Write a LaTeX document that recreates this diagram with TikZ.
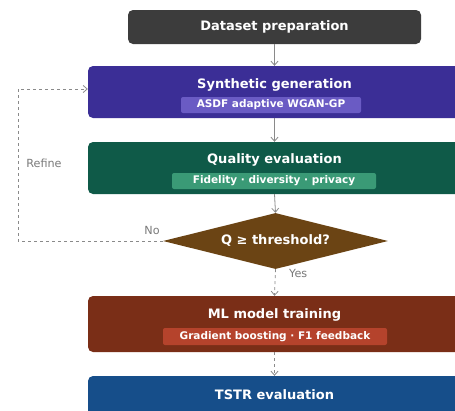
\documentclass[tikz,border=0pt]{standalone}
\usepackage{fontspec}
\setmainfont{DejaVu Sans}
\usetikzlibrary{shapes.geometric,arrows.meta}

\definecolor{cPrep}{HTML}{3C3C3C}
\definecolor{cSyn}{HTML}{3B2E96}
\definecolor{cSynSub}{HTML}{6A5BC4}
\definecolor{cQual}{HTML}{0F5A48}
\definecolor{cQualSub}{HTML}{3A9A76}
\definecolor{cDec}{HTML}{6B4414}
\definecolor{cML}{HTML}{7A2E17}
\definecolor{cMLSub}{HTML}{B5432C}
\definecolor{cTSTR}{HTML}{164E8A}
\definecolor{cLine}{HTML}{8A8A8A}
\definecolor{cNote}{HTML}{7A7A7A}

\tikzset{
  stage/.style={rectangle, rounded corners=5pt, inner sep=0pt, text=white,
    font=\bfseries\fontsize{13}{15}\selectfont},
  tag/.style={rectangle, rounded corners=2pt, inner sep=0pt, text=white,
    minimum height=16pt, font=\bfseries\fontsize{10.5}{12}\selectfont},
  title/.style={text=white, inner sep=0pt, font=\bfseries\fontsize{13}{15}\selectfont},
  flow/.style={draw=cLine, line width=0.8pt, -{Straight Barb[length=4pt,width=7pt]}},
  dflow/.style={flow, dash pattern=on 3pt off 3pt},
  note/.style={text=cNote, inner sep=0pt, font=\fontsize{11.2}{13}\selectfont},
}

\begin{document}
\begin{tikzpicture}[x=1pt,y=-1pt]
  \useasboundingbox (0,0) rectangle (455,410);
  \clip (0,0) rectangle (455,410);
  \fill[white] (0,0) rectangle (455,410);

  % stages
  \node[stage, fill=cPrep, minimum width=293pt, minimum height=34pt] (prep) at (274.5,27) {Dataset preparation};

  \node[stage, fill=cSyn, minimum width=373pt, minimum height=52pt] (syn) at (274.5,92) {};
  \node[title] (synT) at (274.5,85) {Synthetic generation};
  \node[tag, fill=cSynSub, minimum width=180pt] (synS) at (271,105) {ASDF adaptive WGAN-GP};

  \node[stage, fill=cQual, minimum width=373pt, minimum height=52pt] (qual) at (274.5,168) {};
  \node[title] (qualT) at (274.5,160) {Quality evaluation};
  \node[tag, fill=cQualSub, minimum width=204pt] (qualS) at (274,181) {Fidelity · diversity · privacy};

  \node[diamond, aspect=4, fill=cDec, inner sep=0pt, minimum width=225pt, minimum height=56pt,
        text=white, font=\bfseries\fontsize{13}{15}\selectfont] (dec) at (275.5,241) {Q ≥ threshold?};

  \node[stage, fill=cML, minimum width=373pt, minimum height=56pt] (ml) at (274.5,324) {};
  \node[title] (mlT) at (274.5,315) {ML model training};
  \node[tag, fill=cMLSub, minimum width=224pt, minimum height=17pt] (mlS) at (275,336.5) {Gradient boosting · F1 feedback};

  \node[stage, fill=cTSTR, minimum width=373pt, minimum height=40pt] (tstr) at (274.5,396) {};
  \node[title] (tstrT) at (274.5,395) {TSTR evaluation};

  % main flow
  \draw[flow] (prep.south) -- (syn.north);
  \draw[flow] (syn.south) -- (qual.north);
  \draw[flow] (qual.south) -- (dec.north);
  \draw[dflow] (dec.south) -- (ml.north);
  \draw[dflow] (ml.south) -- (tstr.north);
  \node[note, anchor=west] (yes) at (289,273) {Yes};

  % refine loop
  \coordinate (loopL) at (18,241);
  \draw[dflow] (dec.west) -- (loopL) |- ([yshift=3pt]syn.west);
  \node[note] (no) at (152,230) {No};
  \node[note] (refine) at (44,163) {Refine};
\end{tikzpicture}
\end{document}
